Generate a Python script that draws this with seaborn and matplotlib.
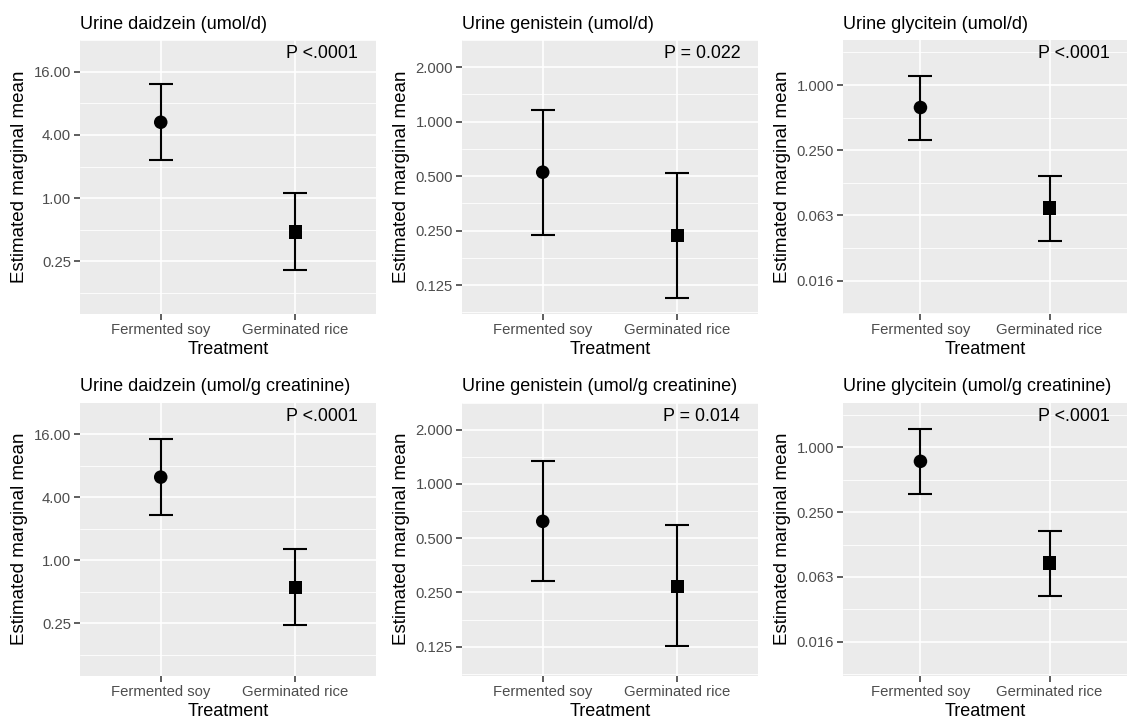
import numpy as np
import pandas as pd
import matplotlib
matplotlib.use("Agg")
import matplotlib.pyplot as plt
import seaborn as sns

# estimated marginal means, back-transformed scale
treatments = ["Fermented soy", "Germinated rice"]

titles = [
    "Urine daidzein (umol/d)",
    "Urine genistein (umol/d)",
    "Urine glycitein (umol/d)",
    "Urine daidzein (umol/g creatinine)",
    "Urine genistein (umol/g creatinine)",
    "Urine glycitein (umol/g creatinine)",
]
p_labels = ["P <.0001", "P = 0.022", "P <.0001", "P <.0001", "P = 0.014", "P <.0001"]

emmean = [[5.28, 0.475], [0.526, 0.235], [0.62, 0.073],
          [6.2, 0.55], [0.62, 0.27], [0.74, 0.084]]
lower_cl = [[2.31, 0.207], [0.238, 0.106], [0.314, 0.036],
            [2.71, 0.24], [0.29, 0.126], [0.366, 0.042]]
upper_cl = [[12.1, 1.12], [1.16, 0.521], [1.22, 0.144],
            [14.2, 1.29], [1.34, 0.59], [1.47, 0.168]]

# y axis breaks (log2 scale) per panel and their labels
y_breaks = [[0.25, 1, 4, 16], [0.125, 0.25, 0.5, 1, 2], [2**-6, 2**-4, 0.25, 1],
            [0.25, 1, 4, 16], [0.125, 0.25, 0.5, 1, 2], [2**-6, 2**-4, 0.25, 1]]
y_labels = [["0.25", "1.00", "4.00", "16.00"],
            ["0.125", "0.250", "0.500", "1.000", "2.000"],
            ["0.016", "0.063", "0.250", "1.000"],
            ["0.25", "1.00", "4.00", "16.00"],
            ["0.125", "0.250", "0.500", "1.000", "2.000"],
            ["0.016", "0.063", "0.250", "1.000"]]
y_limits = [(2**-3.66, 2**4.33), (2**-3.53, 2**1.21), (2**-7.02, 2**1.38),
            (2**-3.66, 2**4.36), (2**-3.53, 2**1.21), (2**-7.04, 2**1.38)]

sns.set_theme(style="darkgrid", rc={
    "axes.facecolor": "#EBEBEB",
    "grid.color": "white",
    "axes.edgecolor": "white",
    "xtick.bottom": True,
    "ytick.left": True,
    "xtick.major.size": 4.5,
    "ytick.major.size": 4.5,
    "xtick.major.width": 1.1,
    "ytick.major.width": 1.1,
    "xtick.color": "#333333",
    "ytick.color": "#333333",
})
plt.rcParams["font.family"] = ["Liberation Sans", "DejaVu Sans"]

fig = plt.figure(figsize=(11.32, 7.18), dpi=100)
fig.patch.set_facecolor("white")

lefts = [80, 462, 843]
widths = [296, 296, 284]
tops = [40, 402.5]
heights = [274, 273]
W, H = 1132, 718

for i in range(6):
    r, c = divmod(i, 3)
    ax = fig.add_axes([lefts[c] / W, (H - tops[r] - heights[r]) / H,
                       widths[c] / W, heights[r] / H])
    df = pd.DataFrame({
        "Treatment": treatments,
        "emmean": emmean[i],
        "lower": lower_cl[i],
        "upper": upper_cl[i],
    })
    ax.set_yscale("log", base=2)
    ax.errorbar(df["Treatment"], df["emmean"],
                yerr=[df["emmean"] - df["lower"], df["upper"] - df["emmean"]],
                fmt="none", ecolor="black", elinewidth=1.5, capsize=8.5,
                capthick=1.5, zorder=3)
    sns.scatterplot(data=df, x="Treatment", y="emmean", style="Treatment",
                    markers={"Fermented soy": "o", "Germinated rice": "s"},
                    color="black", s=95, edgecolor="none", legend=False,
                    ax=ax, zorder=4)
    ax.set_xlim(-0.6, 1.6)
    ax.set_ylim(*y_limits[i])

    br = y_breaks[i]
    ax.set_yticks(br)
    ax.set_yticklabels(y_labels[i])
    step = np.log2(br[1]) - np.log2(br[0])
    lb = np.log2(br)
    minors = np.concatenate([[lb[0] - step / 2], lb + step / 2])
    ax.set_yticks(2.0 ** minors, minor=True)
    ax.yaxis.set_minor_formatter(matplotlib.ticker.NullFormatter())

    ax.grid(True, which="major", color="white", linewidth=1.2)
    ax.grid(True, which="minor", axis="y", color="white", linewidth=0.6)
    ax.xaxis.set_tick_params(which="major", bottom=True, length=4.5, width=1.1,
                             color="#333333", labelcolor="#4D4D4D",
                             labelsize=10.7, pad=2)
    ax.yaxis.set_tick_params(which="major", left=True, length=4.5, width=1.1,
                             color="#333333", labelcolor="#4D4D4D",
                             labelsize=10.7, pad=2)
    ax.tick_params(which="minor", length=0, left=False, bottom=False)
    for s in ax.spines.values():
        s.set_visible(False)

    ax.set_xlabel("Treatment", fontsize=13, color="black", labelpad=3)
    ax.set_ylabel("Estimated marginal mean", fontsize=13.5, color="black",
                  labelpad=4)
    ax.set_title(titles[i], loc="left", fontsize=13, color="black", pad=8)
    ax.text(0.94, 0.95, p_labels[i], transform=ax.transAxes, ha="right",
            va="center", fontsize=12.9, color="black")

fig.savefig("out.png", dpi=100, facecolor="white")
